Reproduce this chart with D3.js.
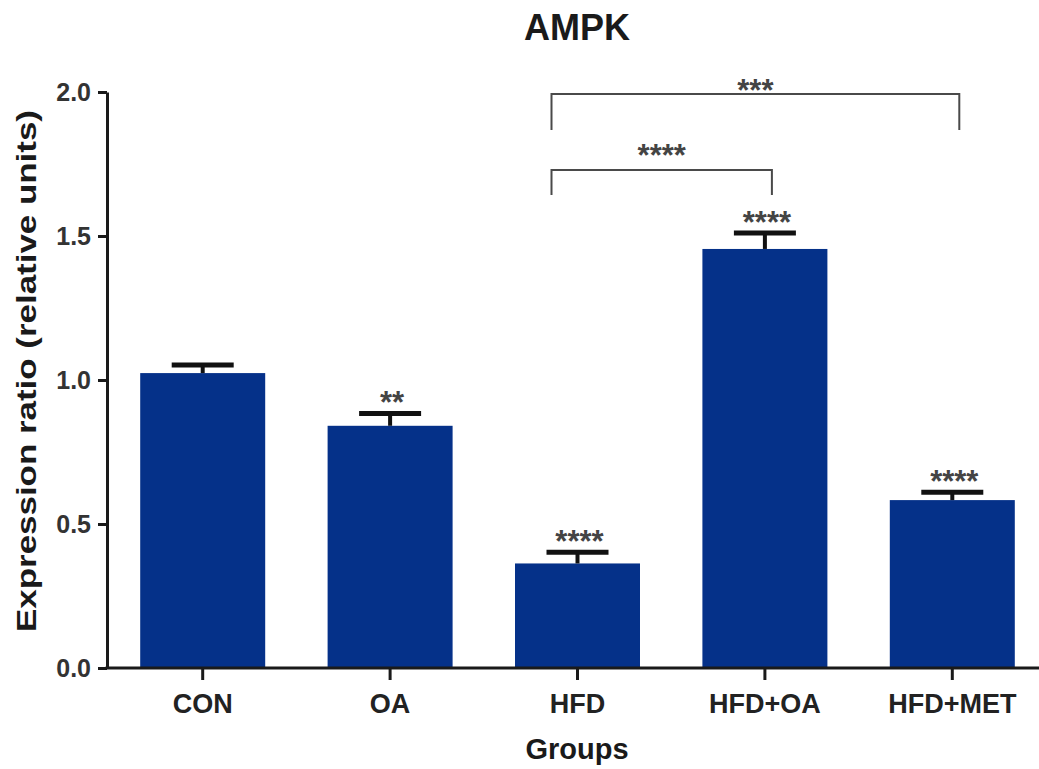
<!DOCTYPE html>
<html>
<head>
<meta charset="utf-8">
<script src="https://cdn.jsdelivr.net/npm/d3@7"></script>
<style>
  html, body { margin: 0; padding: 0; background: #fff; }
  svg text { font-family: "Liberation Sans", Arial, sans-serif; font-weight: bold; }
</style>
</head>
<body>
<div id="chart"></div>
<script>
  const groups = ["CON", "OA", "HFD", "HFD+OA", "HFD+MET"];
  const means = [1.024, 0.841, 0.363, 1.455, 0.583];
  const sems = [0.028, 0.043, 0.039, 0.055, 0.027];
  const barStars = ["", "**", "****", "****", "****"];

  const yTicks = [0, 0.5, 1.0, 1.5, 2.0];

  // bracket comparisons
  const compareFrom = ["HFD", "HFD"];
  const compareTo = ["HFD+OA", "HFD+MET"];
  const compareStars = ["****", "***"];
  const compareTop = [1.729, 1.993];
  const compareLegEnd = [1.642, 1.868];
  const compareStarY = [1.804, 2.03];

  const width = 1039, height = 769;
  const x0 = 107, yBottom = 668, yTop = 92;

  const svg = d3.select("#chart")
    .append("svg")
    .attr("width", width)
    .attr("height", height);

  const x = d3.scaleBand()
    .domain(groups)
    .range([109, 1046])
    .paddingInner(0.333)
    .paddingOuter(0.1665);

  const y = d3.scaleLinear()
    .domain([0, 2])
    .range([yBottom, yTop]);

  // bars
  svg.selectAll(".bar")
    .data(groups)
    .join("rect")
    .attr("class", "bar")
    .attr("x", d => x(d))
    .attr("width", x.bandwidth())
    .attr("y", (d, i) => y(means[i]))
    .attr("height", (d, i) => y(0) - y(means[i]))
    .attr("fill", "#053189");

  // error bars (upper only)
  const capHalf = 31;
  groups.forEach((g, i) => {
    const cx = x(g) + x.bandwidth() / 2;
    svg.append("line")
      .attr("x1", cx).attr("x2", cx)
      .attr("y1", y(means[i])).attr("y2", y(means[i] + sems[i]))
      .attr("stroke", "#111").attr("stroke-width", 4);
    svg.append("line")
      .attr("x1", cx - capHalf).attr("x2", cx + capHalf)
      .attr("y1", y(means[i] + sems[i])).attr("y2", y(means[i] + sems[i]))
      .attr("stroke", "#111").attr("stroke-width", 5);
    if (barStars[i]) {
      svg.append("text")
        .attr("x", cx + 2)
        .attr("y", y(means[i] + sems[i]) - 18 + 18)
        .attr("text-anchor", "middle")
        .attr("font-size", "31px")
        .attr("fill", "#444")
        .text(barStars[i]);
    }
  });

  // comparison brackets
  compareFrom.forEach((from, i) => {
    const xl = x(from) + x.bandwidth() / 2 - 26;
    const xr = x(compareTo[i]) + x.bandwidth() / 2 + 7;
    svg.append("path")
      .attr("d", `M${xl},${y(compareLegEnd[i])}V${y(compareTop[i])}H${xr}V${y(compareLegEnd[i])}`)
      .attr("fill", "none")
      .attr("stroke", "#4a4a4a")
      .attr("stroke-width", 2);
    svg.append("text")
      .attr("x", (xl + xr) / 2)
      .attr("y", y(compareStarY[i]) + 18)
      .attr("text-anchor", "middle")
      .attr("font-size", "31px")
      .attr("fill", "#444")
      .text(compareStars[i]);
  });

  // y axis
  const yAxis = svg.append("g")
    .attr("transform", `translate(${x0},0)`)
    .call(d3.axisLeft(y)
      .tickValues(yTicks)
      .tickFormat(d3.format(".1f"))
      .tickSize(9)
      .tickSizeOuter(0)
      .tickPadding(7));
  yAxis.select(".domain").attr("stroke", "#1a1a1a").attr("stroke-width", 3);
  yAxis.selectAll(".tick line").attr("stroke", "#1a1a1a").attr("stroke-width", 3);
  yAxis.selectAll(".tick text")
    .attr("font-size", "25px")
    .attr("fill", "#333");

  // x axis
  const xAxis = svg.append("g")
    .attr("transform", `translate(0,${yBottom})`)
    .call(d3.axisBottom(x)
      .tickSize(12)
      .tickSizeOuter(0)
      .tickPadding(14));
  xAxis.select(".domain").remove();
  xAxis.append("line")
    .attr("x1", x0 - 1.5).attr("x2", width)
    .attr("y1", 0).attr("y2", 0)
    .attr("stroke", "#1a1a1a").attr("stroke-width", 3);
  xAxis.selectAll(".tick line").attr("stroke", "#1a1a1a").attr("stroke-width", 3);
  xAxis.selectAll(".tick text")
    .attr("font-size", "27px")
    .attr("fill", "#222");

  // title
  svg.append("text")
    .attr("x", 577)
    .attr("y", 40)
    .attr("text-anchor", "middle")
    .attr("font-size", "36px")
    .attr("fill", "#1a1a1a")
    .text("AMPK");

  // axis titles
  svg.append("text")
    .attr("x", 577)
    .attr("y", 759)
    .attr("text-anchor", "middle")
    .attr("font-size", "29px")
    .attr("fill", "#1a1a1a")
    .text("Groups");

  svg.append("text")
    .attr("transform", "translate(36,371) rotate(-90)")
    .attr("text-anchor", "middle")
    .attr("font-size", "28px")
    .attr("fill", "#1a1a1a")
    .attr("textLength", 522)
    .attr("lengthAdjust", "spacingAndGlyphs")
    .text("Expression ratio (relative units)");
</script>
</body>
</html>
